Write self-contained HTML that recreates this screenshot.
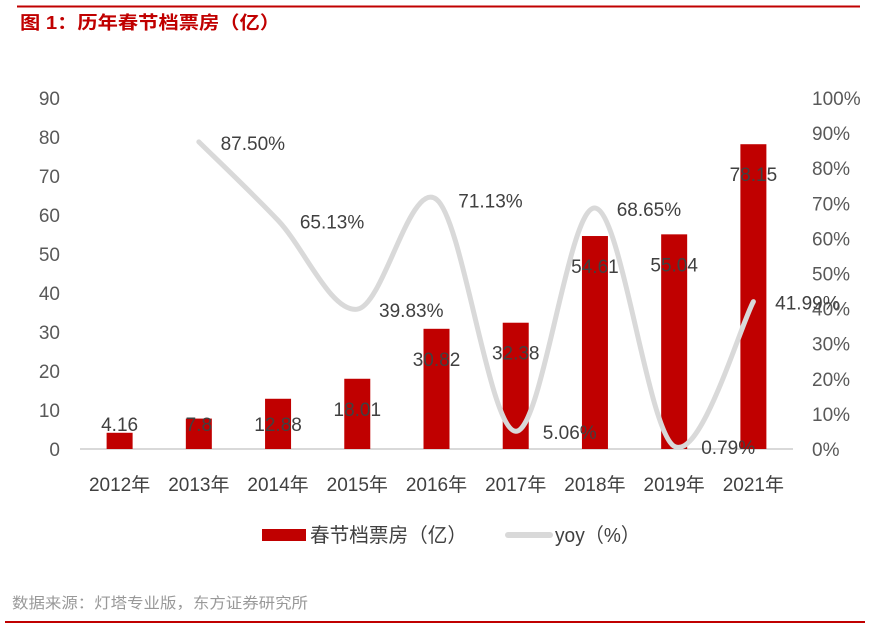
<!DOCTYPE html>
<html><head><meta charset="utf-8"><style>
body{margin:0;background:#fff;}
svg{display:block;font-family:"Liberation Sans","Noto Sans CJK SC",sans-serif;}
</style></head><body>
<svg id="c" width="871" height="628">
<line x1="17" y1="6.5" x2="860" y2="6.5" stroke="#c00000" stroke-width="2"/>
<text x="20" y="29" fill="#c00000" font-size="18" font-weight="bold" textLength="260" lengthAdjust="spacingAndGlyphs">图 1：历年春节档票房（亿）</text>
<g id="plot"></g>
<rect x="262" y="529" width="44" height="12" fill="#c00000"/>
<text x="310" y="542" font-size="20" fill="#404040" textLength="157" lengthAdjust="spacingAndGlyphs">春节档票房（亿）</text>
<line x1="508" y1="535" x2="550" y2="535" stroke="#d9d9d9" stroke-width="6" stroke-linecap="round"/>
<text x="555" y="542" font-size="20" fill="#404040" textLength="85" lengthAdjust="spacingAndGlyphs">yoy（%）</text>
<text x="12" y="608" font-size="15" fill="#999" textLength="296" lengthAdjust="spacingAndGlyphs">数据来源：灯塔专业版，东方证券研究所</text>
<line x1="5" y1="622" x2="865" y2="622" stroke="#c00000" stroke-width="2"/>
</svg>
<script>
const categories=["2012年","2013年","2014年","2015年","2016年","2017年","2018年","2019年","2021年"];
const boxOffice=[4.16,7.8,12.88,18.01,30.82,32.38,54.61,55.04,78.15];
const yoy=[null,87.50,65.13,39.83,71.13,5.06,68.65,0.79,41.99];
const leftTicks=[0,10,20,30,40,50,60,70,80,90];
const rightTicks=[0,10,20,30,40,50,60,70,80,90,100];

const NS="http://www.w3.org/2000/svg";
const g=document.getElementById('plot');
const X0=80,X1=793,Y0=449,Y1=98;
const band=(X1-X0)/categories.length;
const xc=i=>X0+band*(i+0.5);
const yl=v=>Y0-(v/90)*(Y0-Y1);
const yr=v=>Y0-(v/100)*(Y0-Y1);
function mk(t,a){const e=document.createElementNS(NS,t);for(const k in a)e.setAttribute(k,a[k]);g.appendChild(e);return e;}

leftTicks.forEach(v=>{
  const t=mk('text',{x:60,y:yl(v)+7,'text-anchor':'end','font-size':19,fill:'#595959'});
  t.textContent=v;
  
  
});
rightTicks.forEach(v=>{
  const t=mk('text',{x:812,y:yr(v)+7,'font-size':19,fill:'#595959'});
  t.textContent=v+'%';
  
  
});
const ax=mk('line',{x1:X0,y1:Y0,x2:X1,y2:Y0,stroke:'#d9d9d9','stroke-width':2});



categories.forEach((c,i)=>{
  const t=mk('text',{x:xc(i),y:Y0+42,'text-anchor':'middle','font-size':19,fill:'#404040'});
  t.textContent=c;
  
  
});
boxOffice.forEach((v,i)=>{
  const b=mk('rect',{x:xc(i)-13,y:yl(v),width:26,height:Y0-yl(v),fill:'#c00000'});
  
  
});
const pts=[];yoy.forEach((v,i)=>{if(v!==null)pts.push([xc(i),yr(v)]);});
let d='M'+pts[0][0]+','+pts[0][1];
for(let i=0;i<pts.length-1;i++){
  const p0=pts[Math.max(0,i-1)],p1=pts[i],p2=pts[i+1],p3=pts[Math.min(pts.length-1,i+2)];
  const k=1/6;
  d+=` C${p1[0]+(p2[0]-p0[0])*k},${p1[1]+(p2[1]-p0[1])*k} ${p2[0]-(p3[0]-p1[0])*k},${p2[1]-(p3[1]-p1[1])*k} ${p2[0]},${p2[1]}`;
}
const ln=mk('path',{d:d,fill:'none',stroke:'#d9d9d9','stroke-width':5,'stroke-linecap':'round'});



boxOffice.forEach((v,i)=>{
  const t=mk('text',{x:xc(i),y:Math.min(yl(v)+30,424)+7,'text-anchor':'middle','font-size':19,fill:'#404040'});
  t.textContent=v;
  
  
});
yoy.forEach((v,i)=>{
  if(v===null)return;
  const t=mk('text',{x:xc(i)+54,y:yr(v)+8,'text-anchor':'middle','font-size':19,fill:'#404040'});
  t.textContent=v.toFixed(2)+'%';
  
  
});
</script>
</body></html>
